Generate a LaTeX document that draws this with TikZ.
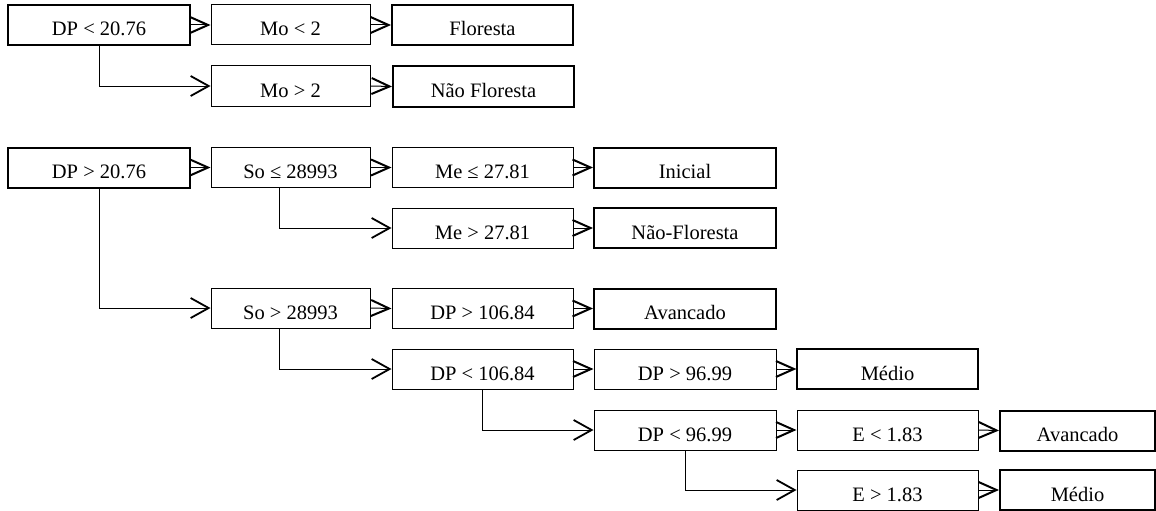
\documentclass[tikz,border=0pt]{standalone}
\usepackage{fontspec}
\setmainfont{Liberation Serif}
\usetikzlibrary{arrows.meta}
\begin{document}
\begin{tikzpicture}[x=1pt,y=-1pt,
  box/.style={draw=black, inner sep=0pt, text height=31pt, text depth=9pt,
    font=\fontsize{20.5}{22}\selectfont, line width=1pt},
  thick box/.style={box, line width=2pt},
  cA/.style={minimum width=182pt}, cB/.style={minimum width=159pt},
  cC/.style={minimum width=181pt}, cD/.style={minimum width=182pt},
  cE/.style={minimum width=181pt}, cF/.style={minimum width=155pt},
  shortarr/.style={line width=1pt, -{Straight Barb[length=18pt,width=16pt,line width=2pt]}},
  longarr/.style={line width=1pt, -{Straight Barb[length=18pt,width=20pt,line width=1.8pt]}}
]
\useasboundingbox (0,0) rectangle (1156,511);
% columns cx: 99, 290.5, 482.5, 685, 887.5, 1077.5
% rows cy: 25, 86, 167, 228, 308, 369, 430, 490
\node[thick box, cA] (n1) at (99,25) {DP < 20.76};
\node[box, cB] (n2) at (290.5,25) {Mo < 2};
\node[thick box, cC] (n3) at (482.5,25) {Floresta};
\node[box, cB] (n4) at (290.5,86) {Mo > 2};
\node[thick box, cC] (n5) at (483.5,86.5) {Não Floresta};

\node[thick box, cA] (n6) at (99,167.5) {DP > 20.76};
\node[box, cB] (n7) at (290.5,167.5) {So ≤ 28993};
\node[box, cC] (n8) at (482.5,167.5) {Me ≤ 27.81};
\node[thick box, cD] (n9) at (685,167.5) {Inicial};
\node[box, cC] (n10) at (482.5,228) {Me > 27.81};
\node[thick box, cD] (n11) at (685,228) {Não-Floresta};

\node[box, cB] (n12) at (290.5,308) {So > 28993};
\node[box, cC] (n13) at (482.5,308.5) {DP > 106.84};
\node[thick box, cD] (n14) at (685,308.5) {Avancado};
\node[box, cC] (n15) at (482.5,369) {DP < 106.84};
\node[box, cD] (n16) at (685,369) {DP > 96.99};
\node[box, cE, line width=1.2pt] (n17) at (887.5,369) {Médio};
\node[box, cD] (n18) at (685,430) {DP < 96.99};
\node[box, cE] (n19) at (887.5,430) {E < 1.83};
\node[thick box, cF] (n20) at (1077.5,430.5) {Avancado};
\node[box, cE] (n21) at (887.5,490) {E > 1.83};
\node[thick box, cF] (n22) at (1077.5,490) {Médio};

% short arrows
\foreach \a/\b in {n1/n2,n2/n3,n4/n5,n6/n7,n7/n8,n8/n9,n10/n11,n12/n13,n13/n14,n15/n16,n16/n17,n18/n19,n19/n20,n21/n22}
  \draw[shortarr] (\a.east) -- (\b.west);

% long connectors
\draw[longarr] (n1.south) |- (n4.west);
\draw[longarr] (n6.south) |- (n12.west);
\draw[longarr] ([xshift=-11.5pt]n7.south) |- (n10.west);
\draw[longarr] ([xshift=-11.5pt]n12.south) |- (n15.west);
\draw[longarr] (n15.south) |- (n18.west);
\draw[longarr] (n18.south) |- (n21.west);
\end{tikzpicture}
\end{document}
